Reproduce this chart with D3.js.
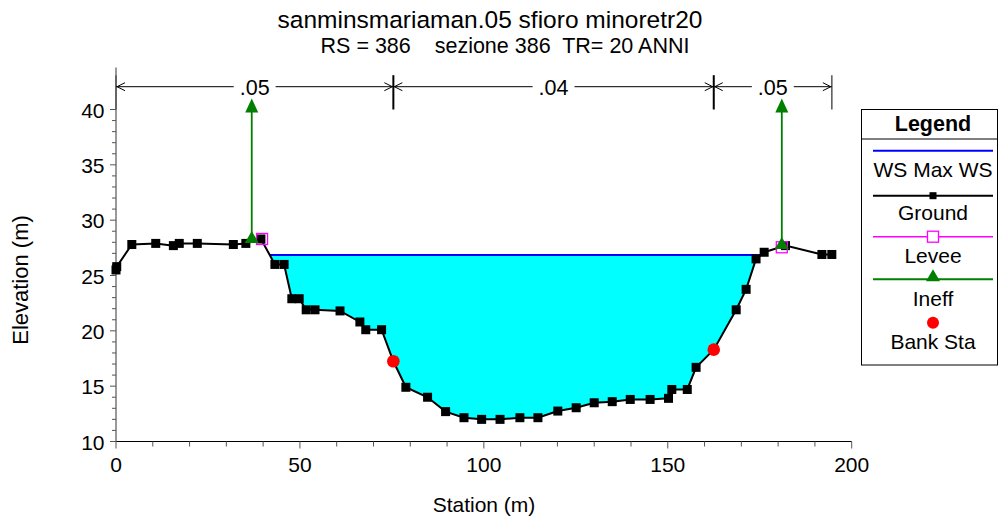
<!DOCTYPE html>
<html><head><meta charset="utf-8">
<script src="https://cdn.jsdelivr.net/npm/d3@7/dist/d3.min.js"></script>
<style>body{margin:0;background:#fff}svg text{font-family:Arial,"Liberation Sans",sans-serif}</style>
</head><body><svg id="c" width="999" height="523"></svg>
<script>
const title = "sanminsmariaman.05 sfioro minoretr20";
const subtitle = "RS = 386    sezione 386  TR= 20 ANNI";
const xLabel = "Station (m)";
const yLabel = "Elevation (m)";
const groundSta = [0,0.2,4.3,10.8,15.6,17.2,22.1,31.9,35.3,39.4,43.2,45.7,47.8,49.8,51.7,54.1,60.9,66.3,67.9,72.2,75.4,78.8,84.7,89.6,94.6,99.4,104.4,109.8,114.7,120.1,125.1,130.0,134.9,139.8,145.2,150.2,151.1,155.3,157.7,162.5,168.6,171.3,174.0,176.2,182.0,191.9,194.6];
const groundElev = [25.5,25.8,27.8,27.9,27.7,27.9,27.9,27.8,27.9,28.3,26.0,26.0,22.9,22.9,21.9,21.9,21.8,20.8,20.1,20.1,17.25,14.9,14.0,12.7,12.15,12.0,12.0,12.15,12.15,12.75,13.05,13.5,13.6,13.8,13.8,13.9,14.7,14.7,16.7,18.3,21.9,23.75,26.5,27.1,27.7,26.9,26.9];
const wsElev = 26.85;
const bankSta = [75.4,162.5];
const bankElev = [17.25,18.3];
const leveeSta = [39.7,181.0];
const leveeElev = [28.3,27.55];
const ineffSta = [36.9,181.0];
const ineffElev = [28.3,27.75];
const ineffTop = 41.0;
const nSta = [0,75.4,162.5,194.6];
const nVal = [".05",".04",".05"];
const xTicks = [0,50,100,150,200];
const yTicks = [10,15,20,25,30,35,40];
const xMinor = d3.range(0,201,10);
const yMinor = d3.range(10,41,1);
const legendItems = ["WS Max WS","Ground","Levee","Ineff","Bank Sta"];

const svg = d3.select("#c");
const x = d3.scaleLinear().domain([0,200]).range([116,851.7]);
const y = d3.scaleLinear().domain([10,40]).range([441.5,109.5]);

// titles
svg.append("text").attr("x",490).attr("y",28).attr("text-anchor","middle").attr("font-size",24.5).text(title);
svg.append("text").attr("x",505).attr("y",53).attr("text-anchor","middle").attr("font-size",21.5).style("white-space","pre").text(subtitle);

// water fill (between levees)
const pts = groundSta.map((s,i)=>({s,e:groundElev[i]}));
let i0 = 0; pts.forEach((p,i)=>{ if(p.s<=leveeSta[0]) i0=i; });
let i1 = pts.findIndex(p=>p.s>=leveeSta[1]);
const chan = pts.slice(i0, i1+1);
const poly = [];
for(let i=1;i<chan.length;i++){
  const a=chan[i-1], b=chan[i];
  const aBelow=a.e<wsElev, bBelow=b.e<wsElev;
  if(aBelow!==bBelow){
    const t=(wsElev-a.e)/(b.e-a.e);
    poly.push({s:a.s+t*(b.s-a.s),e:wsElev});
  }
  if(bBelow) poly.push(b);
}
svg.append("path").attr("d",d3.line().x(d=>x(d.s)).y(d=>y(d.e))(poly)+"Z").attr("fill","#00ffff");
svg.append("line").attr("x1",x(poly[0].s)).attr("x2",x(poly[poly.length-1].s)).attr("y1",y(wsElev)).attr("y2",y(wsElev)).attr("stroke","#0000ff").attr("stroke-width",2);

// axes
const ax = svg.append("g").attr("stroke","#333");
ax.append("line").attr("x1",x(0)).attr("x2",x(200)).attr("y1",y(10)).attr("y2",y(10)).attr("stroke","#000").attr("stroke-width",1.2);
ax.append("line").attr("x1",x(0)).attr("x2",x(0)).attr("y1",y(10)).attr("y2",y(43.8)).attr("stroke","#777").attr("stroke-width",1.5);
xMinor.forEach(v=>ax.append("line").attr("x1",x(v)).attr("x2",x(v)).attr("y1",y(10)).attr("y2",y(10)+(v%50===0?7:5)).attr("stroke","#555"));
yMinor.forEach(v=>ax.append("line").attr("x1",x(0)).attr("x2",x(0)-(v%5===0?6:4)).attr("y1",y(v)).attr("y2",y(v)).attr("stroke","#555"));
xTicks.forEach(v=>svg.append("text").attr("x",x(v)).attr("y",472).attr("text-anchor","middle").attr("font-size",21).text(v));
yTicks.forEach(v=>svg.append("text").attr("x",104.5).attr("y",y(v)+8).attr("text-anchor","end").attr("font-size",21).text(v));
svg.append("text").attr("x",484).attr("y",512).attr("text-anchor","middle").attr("font-size",21).text(xLabel);
svg.append("text").attr("transform","translate(28,280) rotate(-90)").attr("text-anchor","middle").attr("font-size",22).text(yLabel);

// n-values
const yA = y(42.06);
nSta.forEach((s,i)=>{
  const mid = i>0 && i<nSta.length-1;
  svg.append("line").attr("x1",x(s)).attr("x2",x(s)).attr("y1",y(43.1)).attr("y2",y(40)).attr("stroke",mid?"#000":"#555").attr("stroke-width",mid?2:1.5);
});
nVal.forEach((v,i)=>{
  const x1=x(nSta[i]), x2=x(nSta[i+1]), xm=(x1+x2)/2;
  const t = svg.append("text").attr("x",xm).attr("y",yA+8).attr("text-anchor","middle").attr("font-size",21.5).text(v);
  const w = t.node().getComputedTextLength();
  svg.append("line").attr("x1",x1).attr("x2",xm-w/2-6).attr("y1",yA).attr("y2",yA).attr("stroke","#000");
  svg.append("line").attr("x1",xm+w/2+6).attr("x2",x2).attr("y1",yA).attr("y2",yA).attr("stroke","#000");
  svg.append("path").attr("d",`M${x1+9},${yA-4}L${x1+1},${yA}L${x1+9},${yA+4}`).attr("fill","none").attr("stroke","#000");
  svg.append("path").attr("d",`M${x2-9},${yA-4}L${x2-1},${yA}L${x2-9},${yA+4}`).attr("fill","none").attr("stroke","#000");
});

// ground
svg.append("path").attr("d",d3.line().x(d=>x(d.s)).y(d=>y(d.e))(pts)).attr("fill","none").attr("stroke","#000").attr("stroke-width",2);
svg.selectAll(".g").data(pts).enter().append("rect").attr("x",d=>x(d.s)-4.5).attr("y",d=>y(d.e)-4.5).attr("width",9).attr("height",9).attr("fill","#000");

// bank stations
bankSta.forEach((s,i)=>svg.append("circle").attr("cx",x(s)).attr("cy",y(bankElev[i])).attr("r",6.3).attr("fill","#ff0000"));

// ineff
ineffSta.forEach((s,i)=>{
  const xs=x(s), top=y(ineffTop);
  svg.append("line").attr("x1",xs).attr("x2",xs).attr("y1",y(ineffElev[i])).attr("y2",top+12).attr("stroke","#007f00").attr("stroke-width",1.8);
  svg.append("path").attr("d",`M${xs},${top}L${xs-6.5},${top+14}L${xs+6.5},${top+14}Z`).attr("fill","#007f00");
});
// levee
leveeSta.forEach((s,i)=>svg.append("rect").attr("x",x(s)-5.5).attr("y",y(leveeElev[i])-5.5).attr("width",11).attr("height",11).attr("fill","none").attr("stroke","#ff00ff").attr("stroke-width",1.3));
ineffSta.forEach((s,i)=>svg.append("path").attr("transform",`translate(${x(s)},${y(ineffElev[i])})`).attr("d",d3.symbol(d3.symbolTriangle,85)()).attr("fill","#007f00"));

// legend
const lg = svg.append("g");
lg.append("rect").attr("x",861.5).attr("y",109.5).attr("width",136).attr("height",255.5).attr("fill","#fff").attr("stroke","#000");
lg.append("line").attr("x1",861.5).attr("x2",997.5).attr("y1",139).attr("y2",139).attr("stroke","#000");
lg.append("text").attr("x",933).attr("y",131).attr("text-anchor","middle").attr("font-size",21.5).attr("font-weight","bold").text("Legend");
const lx1=873, lx2=993, lc=933;
const symY=[150.7,195.7,236.7,279.3,322.7];
const txtY=[177,220,262.5,306,348.5];
legendItems.forEach((t,i)=>lg.append("text").attr("x",lc).attr("y",txtY[i]).attr("text-anchor","middle").attr("font-size",21).text(t));
lg.append("line").attr("x1",lx1).attr("x2",lx2).attr("y1",symY[0]).attr("y2",symY[0]).attr("stroke","#0000ff").attr("stroke-width",2);
lg.append("line").attr("x1",lx1).attr("x2",lx2).attr("y1",symY[1]).attr("y2",symY[1]).attr("stroke","#000").attr("stroke-width",2);
lg.append("rect").attr("x",lc-3.5).attr("y",symY[1]-3.5).attr("width",7).attr("height",7).attr("fill","#000");
lg.append("line").attr("x1",lx1).attr("x2",lx2).attr("y1",symY[2]).attr("y2",symY[2]).attr("stroke","#ff00ff").attr("stroke-width",1.5);
lg.append("rect").attr("x",lc-5.5).attr("y",symY[2]-5.5).attr("width",11).attr("height",11).attr("fill","#fff").attr("stroke","#ff00ff").attr("stroke-width",1.3);
lg.append("line").attr("x1",lx1).attr("x2",lx2).attr("y1",symY[3]).attr("y2",symY[3]).attr("stroke","#007f00").attr("stroke-width",2);
lg.append("path").attr("transform",`translate(${lc},${symY[3]-2})`).attr("d",d3.symbol(d3.symbolTriangle,85)()).attr("fill","#007f00");
lg.append("circle").attr("cx",lc).attr("cy",symY[4]).attr("r",6).attr("fill","#ff0000");
</script></body></html>
